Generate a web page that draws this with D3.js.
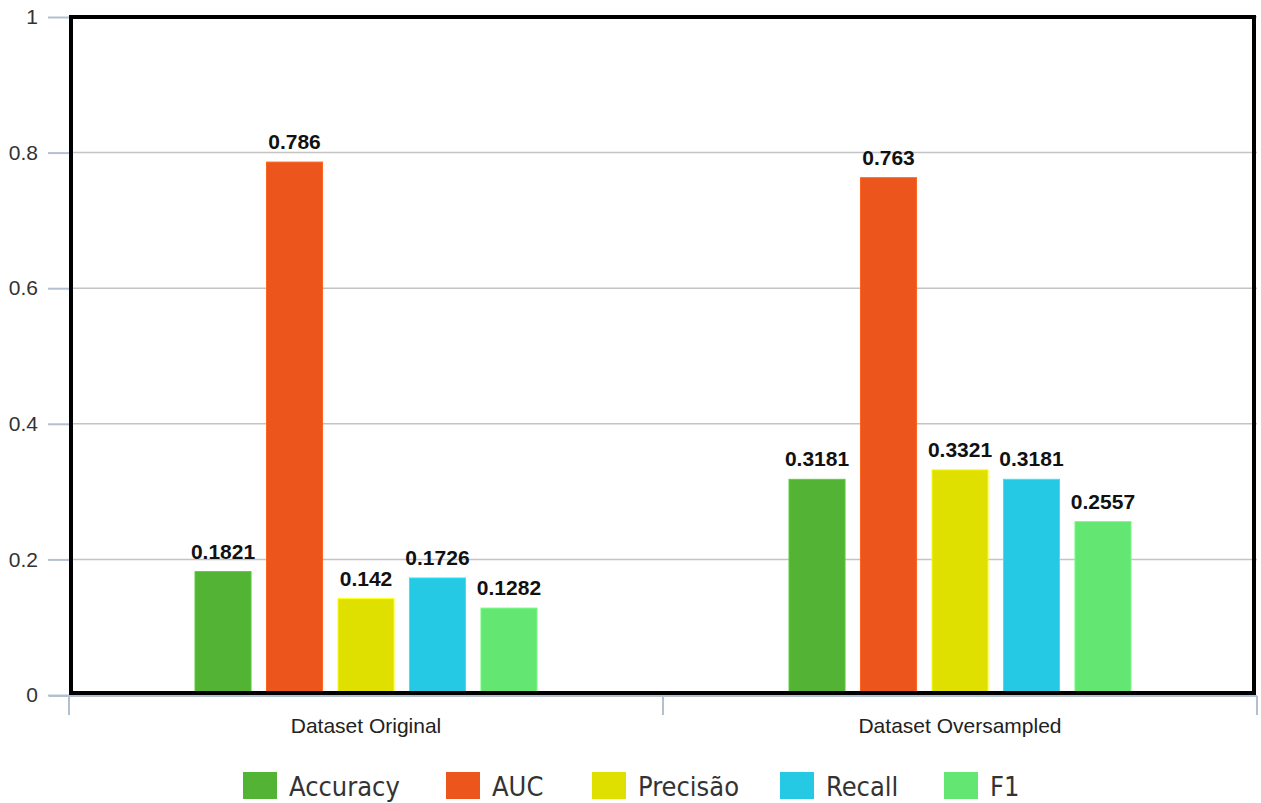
<!DOCTYPE html>
<html>
<head>
<meta charset="utf-8">
<script src="https://cdn.jsdelivr.net/npm/d3@7"></script>
<style>
  html, body { margin: 0; padding: 0; background: #fff; }
  svg { display: block; }
</style>
</head>
<body>
<svg id="chart" width="1261" height="803"></svg>
<script>
// Metric comparison across the two datasets
const datasets = ["Dataset Original", "Dataset Oversampled"];
const metrics = ["Accuracy", "AUC", "Precisão", "Recall", "F1"];
const accuracy = [0.1821, 0.3181];
const auc = [0.786, 0.763];
const precisao = [0.142, 0.3321];
const recall = [0.1726, 0.3181];
const f1 = [0.1282, 0.2557];
const labels = [
  ["0.1821", "0.3181"],
  ["0.786", "0.763"],
  ["0.142", "0.3321"],
  ["0.1726", "0.3181"],
  ["0.1282", "0.2557"]
];
const yTicks = [0, 0.2, 0.4, 0.6, 0.8, 1];
const colors = ["#52b335", "#ec561c", "#dfe000", "#25c9e3", "#64e673"];

const series = [accuracy, auc, precisao, recall, f1];

const svg = d3.select("#chart");
const plotLeft = 69, plotRight = 1257, plotTop = 17, plotBottom = 695;
const clusterWidth = 342;

const x0 = d3.scaleBand().domain(datasets).range([plotLeft, plotRight]).paddingInner(0).paddingOuter(0);
const x1 = d3.scaleBand().domain(metrics).range([0, clusterWidth]).paddingInner(0.216).paddingOuter(0);
const y = d3.scaleLinear().domain([0, 1]).range([plotBottom, plotTop]);

// gridlines
svg.append("g")
  .selectAll("line").data(yTicks.filter(d => d > 0)).join("line")
  .attr("x1", plotLeft).attr("x2", plotRight)
  .attr("y1", d => y(d)).attr("y2", d => y(d))
  .attr("stroke", "#c4c4c4").attr("stroke-width", 1.5);

// y axis ticks and labels
const yAxis = d3.axisLeft(y).tickValues(yTicks).tickFormat(d3.format("~g")).tickSize(21).tickPadding(10);
const gy = svg.append("g").attr("transform", `translate(${plotLeft},0)`).call(yAxis);
gy.select(".domain").remove();
gy.selectAll(".tick line").attr("stroke", "#b3c0cf").attr("stroke-width", 2);
gy.selectAll(".tick text")
  .attr("font-family", "Liberation Sans, Arial, sans-serif")
  .attr("font-size", 21).attr("fill", "#333");

// bars
const groups = svg.append("g").selectAll("g").data(datasets).join("g")
  .attr("transform", d => `translate(${x0(d) + x0.bandwidth() / 2 - clusterWidth / 2},0)`);

groups.each(function (ds, i) {
  const g = d3.select(this);
  metrics.forEach((m, k) => {
    const v = series[k][i];
    g.append("rect")
      .attr("x", x1(m)).attr("width", x1.bandwidth())
      .attr("y", y(v)).attr("height", y(0) - y(v))
      .attr("fill", colors[k])
      .attr("stroke", d3.color(colors[k]).brighter(0.4)).attr("stroke-width", 1);
    g.append("text")
      .attr("x", x1(m) + x1.bandwidth() / 2)
      .attr("y", y(v) - 13)
      .attr("text-anchor", "middle")
      .attr("font-family", "Liberation Sans, Arial, sans-serif")
      .attr("font-weight", "bold").attr("font-size", 21)
      .attr("fill", "#111")
      .text(labels[k][i]);
  });
});

// plot frame
svg.append("rect")
  .attr("x", plotLeft + 2).attr("y", plotTop)
  .attr("width", plotRight - plotLeft - 5).attr("height", plotBottom - plotTop - 2)
  .attr("fill", "none").attr("stroke", "#000").attr("stroke-width", 4);

// x axis
const xAxis = d3.axisBottom(x0).tickSize(0).tickPadding(22);
const gx = svg.append("g").attr("transform", `translate(0,${plotBottom + 1})`).call(xAxis);
gx.select(".domain").remove();
gx.selectAll(".tick text")
  .attr("font-family", "Liberation Sans, Arial, sans-serif")
  .attr("font-size", 21).attr("fill", "#222");
svg.append("line")
  .attr("x1", 49).attr("x2", plotRight).attr("y1", plotBottom + 1).attr("y2", plotBottom + 1)
  .attr("stroke", "#b3c0cf").attr("stroke-width", 2);
svg.append("g").selectAll("line")
  .data([plotLeft, x0(datasets[1]), plotRight]).join("line")
  .attr("x1", d => d).attr("x2", d => d)
  .attr("y1", plotBottom + 1).attr("y2", plotBottom + 20)
  .attr("stroke", "#b3c0cf").attr("stroke-width", 2);

// legend
const legendX = [243, 446, 592, 780, 944];
const legend = svg.append("g").selectAll("g").data(metrics).join("g")
  .attr("transform", (d, i) => `translate(${legendX[i]},772)`);
legend.append("rect")
  .attr("width", 34).attr("height", 27)
  .attr("fill", (d, i) => colors[i]);
legend.append("text")
  .attr("x", 46).attr("y", 24)
  .attr("font-family", "DejaVu Sans Condensed, DejaVu Sans, sans-serif")
  .attr("font-size", 27).attr("fill", "#333")
  .text(d => d);
</script>
</body>
</html>
